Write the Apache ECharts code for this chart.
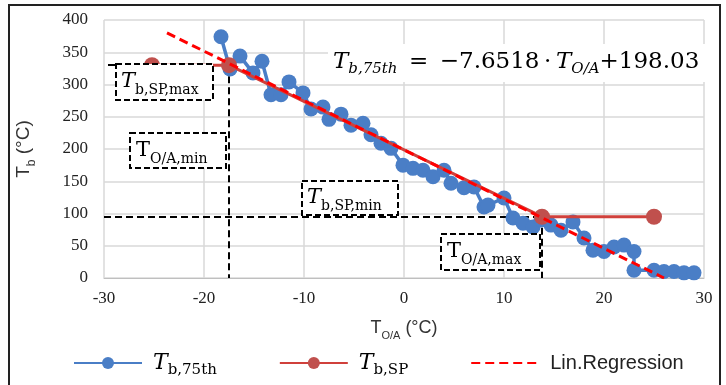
<!DOCTYPE html>
<html>
<head>
<meta charset="utf-8">
<script src="https://cdn.jsdelivr.net/npm/echarts@6/dist/echarts.min.js"></script>
<style>
  html, body { margin: 0; padding: 0; background: #fff; }
  #chart { width: 726px; height: 385px; }
</style>
</head>
<body>
<div id="chart"></div>
<script>
// T_b,75th points
var t75X = [-18.3, -17.4, -16.4, -15.1, -14.2, -13.3, -12.3, -11.5, -10.1, -9.3, -8.1, -7.5, -6.3, -5.3, -4.1, -3.3, -2.3, -1.3, -0.1, 0.9, 1.9, 2.9, 4.0, 4.7, 6.0, 7.0, 8.0, 8.4, 10.0, 10.9, 11.9, 12.9, 13.7, 14.7, 15.7, 16.9, 18.0, 18.9, 20.0, 21.0, 22.0, 23.0, 23.0, 25.0, 26.0, 27.0, 28.0, 29.0];
var t75Y = [374, 324, 344, 318, 336, 284, 284, 304, 287, 262, 265, 246, 254, 237, 240, 222, 209, 201, 175, 170, 167, 157, 167, 147, 140, 141, 110, 113, 124, 93, 85, 79, 90, 82, 74, 87, 62, 43, 41, 48, 51, 41, 12, 12, 10, 10, 8, 8];
// T_b,SP heating curve
var spX = [-25.2, -17.5, 13.8, 25.0];
var spY = [330, 330, 95, 95];
// regression line ends
var regX = [-23.7, 26.0];
var regY = [380, 0];
var xTicks = { min: -30, max: 30, step: 10 };
var yTicks = { min: 0, max: 400, step: 50 };

function pairs(xs, ys) { return xs.map(function (x, i) { return [x, ys[i]]; }); }

var serif = 'Liberation Serif';
var mathSerif = 'DejaVu Serif';
var sans = 'Liberation Sans';
var chart = echarts.init(document.getElementById('chart'));

var dashBox = function (x, y, w, h) {
  return { type: 'rect', shape: { x: x, y: y, width: w, height: h }, z: 50,
    style: { fill: '#fff', stroke: '#000', lineWidth: 2, lineDash: [6, 3] } };
};
var richLabel = function (x, y, main, sub, italic) {
  return { type: 'text', x: x, y: y, z: 51,
    style: {
      text: '{m|' + main + '}{s|' + sub + '}',
      rich: {
        m: { fontFamily: mathSerif, fontStyle: italic ? 'italic' : 'normal', fontSize: 21, lineHeight: 30, verticalAlign: 'middle', fill: '#000' },
        s: { fontFamily: mathSerif, fontSize: 14, lineHeight: 30, verticalAlign: 'bottom', fill: '#000' }
      }
    } };
};

var option = {
  animation: false,
  backgroundColor: '#fff',
  grid: { left: 104, right: 22, top: 20, bottom: 107 },
  legend: {
    bottom: 2,
    left: 68,
    itemWidth: 68,
    itemHeight: 15,
    itemGap: 62,
    data: ['T75', 'TSP', { name: 'Lin.Regression', itemStyle: { opacity: 0 } }],
    formatter: function (n) {
      if (n === 'T75') return '{t|T}{s|b,75th}';
      if (n === 'TSP') return '{t|T}{s|b,SP}';
      return '{n|Lin.Regression}';
    },
    textStyle: {
      padding: [0, 0, 0, 6],
      rich: {
        t: { fontFamily: mathSerif, fontStyle: 'italic', fontSize: 22, lineHeight: 30, verticalAlign: 'middle', color: '#000' },
        s: { fontFamily: mathSerif, fontSize: 15, lineHeight: 30, verticalAlign: 'bottom', color: '#000' },
        n: { fontFamily: sans, fontSize: 20, color: '#222' }
      }
    }
  },
  xAxis: {
    type: 'value', min: xTicks.min, max: xTicks.max, interval: xTicks.step,
    name: '{m|T}{s|O/A}{m| (°C)}', nameLocation: 'middle', nameGap: 37,
    nameTextStyle: { rich: {
      m: { fontFamily: sans, fontSize: 18, lineHeight: 26, verticalAlign: 'middle', color: '#333' },
      s: { fontFamily: sans, fontSize: 11, lineHeight: 26, verticalAlign: 'bottom', color: '#333' } } },
    axisLine: { lineStyle: { color: '#bfbfbf' } },
    axisTick: { show: false },
    axisLabel: { fontFamily: serif, fontSize: 17, color: '#222', margin: 12 },
    splitLine: { lineStyle: { color: '#d9d9d9', width: 1.5 } }
  },
  yAxis: {
    type: 'value', min: yTicks.min, max: yTicks.max, interval: yTicks.step,
    name: '{m|T}{s|b}{m| (°C)}', nameLocation: 'middle', nameGap: 66, nameRotate: 90,
    nameTextStyle: { rich: {
      m: { fontFamily: sans, fontSize: 19, lineHeight: 28, verticalAlign: 'middle', color: '#333' },
      s: { fontFamily: sans, fontSize: 12, lineHeight: 28, verticalAlign: 'bottom', color: '#333' } } },
    axisLine: { show: false },
    axisTick: { show: false },
    axisLabel: { fontFamily: serif, fontSize: 17, color: '#222', margin: 16 },
    splitLine: { lineStyle: { color: '#d9d9d9', width: 1.5 } }
  },
  series: [
    {
      name: 'T75', type: 'line', data: pairs(t75X, t75Y),
      symbol: 'circle', symbolSize: 15,
      itemStyle: { color: '#4A7EC6' },
      lineStyle: { color: '#4A7EC6', width: 3.5 },
      z: 3
    },
    {
      name: 'TSP', type: 'line', data: pairs(spX, spY),
      symbol: 'circle', symbolSize: 16,
      itemStyle: { color: '#C0504D' },
      lineStyle: { color: '#D0403B', width: 3 },
      z: 4,
      markLine: {
        silent: true, symbol: 'none', z: 2,
        lineStyle: { color: '#000', type: [7, 4], width: 2 },
        label: { show: false },
        data: [
          [{ coord: [-29.6, spY[1]] }, { coord: [spX[1], spY[1]] }],
          [{ coord: [spX[1], spY[1]] }, { coord: [spX[1], 0] }],
          [{ coord: [-30, spY[2]] }, { coord: [spX[2], spY[2]] }],
          [{ coord: [spX[2], spY[2]] }, { coord: [spX[2], 0] }]
        ]
      }
    },
    {
      name: 'Lin.Regression', type: 'line', data: pairs(regX, regY),
      symbol: 'none',
      itemStyle: { color: '#FF0000' },
      lineStyle: { color: '#FF0000', width: 3, type: [9, 5] },
      z: 5
    }
  ],
  graphic: [
    { type: 'rect', shape: { x: 9, y: 5, width: 711, height: 390 }, z: 100,
      style: { fill: 'none', stroke: '#222', lineWidth: 2 } },
    { type: 'rect', shape: { x: 328, y: 44, width: 392, height: 38 }, z: 40,
      style: { fill: '#fff' } },
    { type: 'text', x: 333, y: 47, z: 41,
      style: {
        text: '{m|T}{s|b,75th}{e|\u2002=\u2002−7.6518\u2009·\u2009}{m|T}{s|O/A}{e|+198.03}',
        rich: {
          m: { fontFamily: mathSerif, fontStyle: 'italic', fontSize: 23, lineHeight: 30, verticalAlign: 'middle', fill: '#000' },
          s: { fontFamily: mathSerif, fontStyle: 'italic', fontSize: 15, lineHeight: 30, verticalAlign: 'bottom', fill: '#000' },
          e: { fontFamily: mathSerif, fontSize: 23, lineHeight: 30, verticalAlign: 'middle', fill: '#000' }
        }
      } },
    dashBox(116, 64, 97, 36), richLabel(121, 67, 'T', 'b,SP,max', true),
    dashBox(130, 133, 96, 35), richLabel(136, 136, 'T', 'O/A,min', false),
    dashBox(302, 181, 96, 34), richLabel(307, 183, 'T', 'b,SP,min', true),
    dashBox(441, 234, 99, 36), richLabel(447, 237, 'T', 'O/A,max', false)
  ]
};
chart.setOption(option);
</script>
</body>
</html>
